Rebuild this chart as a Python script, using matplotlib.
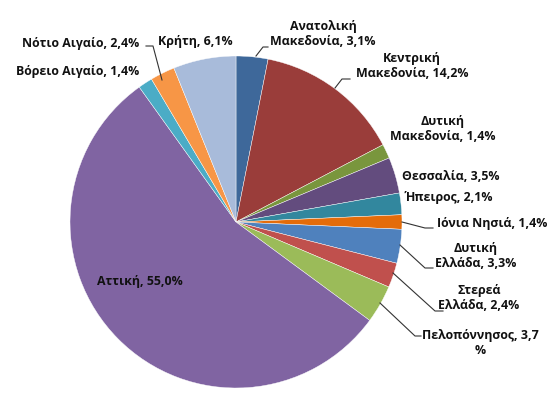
import matplotlib.pyplot as plt

plt.rcParams['font.family'] = ['Open Sans', 'DejaVu Sans']

regions = ['Ανατολική Μακεδονία', 'Κεντρική Μακεδονία', 'Δυτική Μακεδονία', 'Θεσσαλία',
           'Ήπειρος', 'Ιόνια Νησιά', 'Δυτική Ελλάδα', 'Στερεά Ελλάδα', 'Πελοπόννησος',
           'Αττική', 'Βόρειο Αιγαίο', 'Νότιο Αιγαίο', 'Κρήτη']
shares = [3.1, 14.2, 1.4, 3.5, 2.1, 1.4, 3.3, 2.4, 3.7, 55.0, 1.4, 2.4, 6.1]
colors = ['#3E689A', '#9A3D3A', '#79963D', '#634C7E', '#32879E', '#E46C0A',
          '#4F81BD', '#C0504D', '#9BBB59', '#8064A2', '#4BACC6', '#F79646', '#A8BBDA']

# label text, position (pixels from top-left), leader line points (pixels) or None
labels = [
    ('Ανατολική\nΜακεδονία, 3,1%', (323, 34), [(256, 56), (263, 47), (268, 47)]),
    ('Κεντρική\nΜακεδονία, 14,2%', (412, 66), [(335, 88), (342, 79), (350, 79)]),
    ('Δυτική\nΜακεδονία, 1,4%', (443, 129), None),
    ('Θεσσαλία, 3,5%', (451, 176), None),
    ('Ήπειρος, 2,1%', (449, 198), None),
    ('Ιόνια Νησιά, 1,4%', (492, 224), [(402, 222), (425, 228), (433, 228)]),
    ('Δυτική\nΕλλάδα, 3,3%', (476, 256), [(400, 245), (425, 268), (433, 268)]),
    ('Στερεά\nΕλλάδα, 2,4%', (479, 298), [(393, 273), (435, 311), (443, 311)]),
    ('Πελοπόννησος, 3,7\n%', (480, 343), [(380, 303), (415, 336), (421, 336)]),
    ('Αττική, 55,0%', (140, 281), None),
    ('Βόρειο Αιγαίο, 1,4%', (78, 71), None),
    ('Νότιο Αιγαίο, 2,4%', (81, 43), [(162, 80), (153, 46), (146, 46)]),
    ('Κρήτη, 6,1%', (195, 42), None),
]

W, H = 560, 396
fig = plt.figure(figsize=(W / 100, H / 100), dpi=100)
ax = fig.add_axes([0, 0, 1, 1])

cx, cy, r = 236, 222, 166
ax.pie(shares, colors=colors, startangle=90, counterclock=False,
       center=(cx, H - cy), radius=r, frame=True,
       wedgeprops=dict(edgecolor='white', linewidth=0.3))
ax.set_xlim(0, W)
ax.set_ylim(0, H)
ax.set_aspect('equal')
ax.axis('off')

for text, (x, y), leader in labels:
    ax.text(x, H - y, text, ha='center', va='center', fontsize=8.9, fontweight='bold',
            color='#111111', linespacing=1.25)
    if leader:
        ax.plot([p[0] for p in leader], [H - p[1] for p in leader], color='#333333', lw=0.8)

fig.savefig('out.png', dpi=100)
